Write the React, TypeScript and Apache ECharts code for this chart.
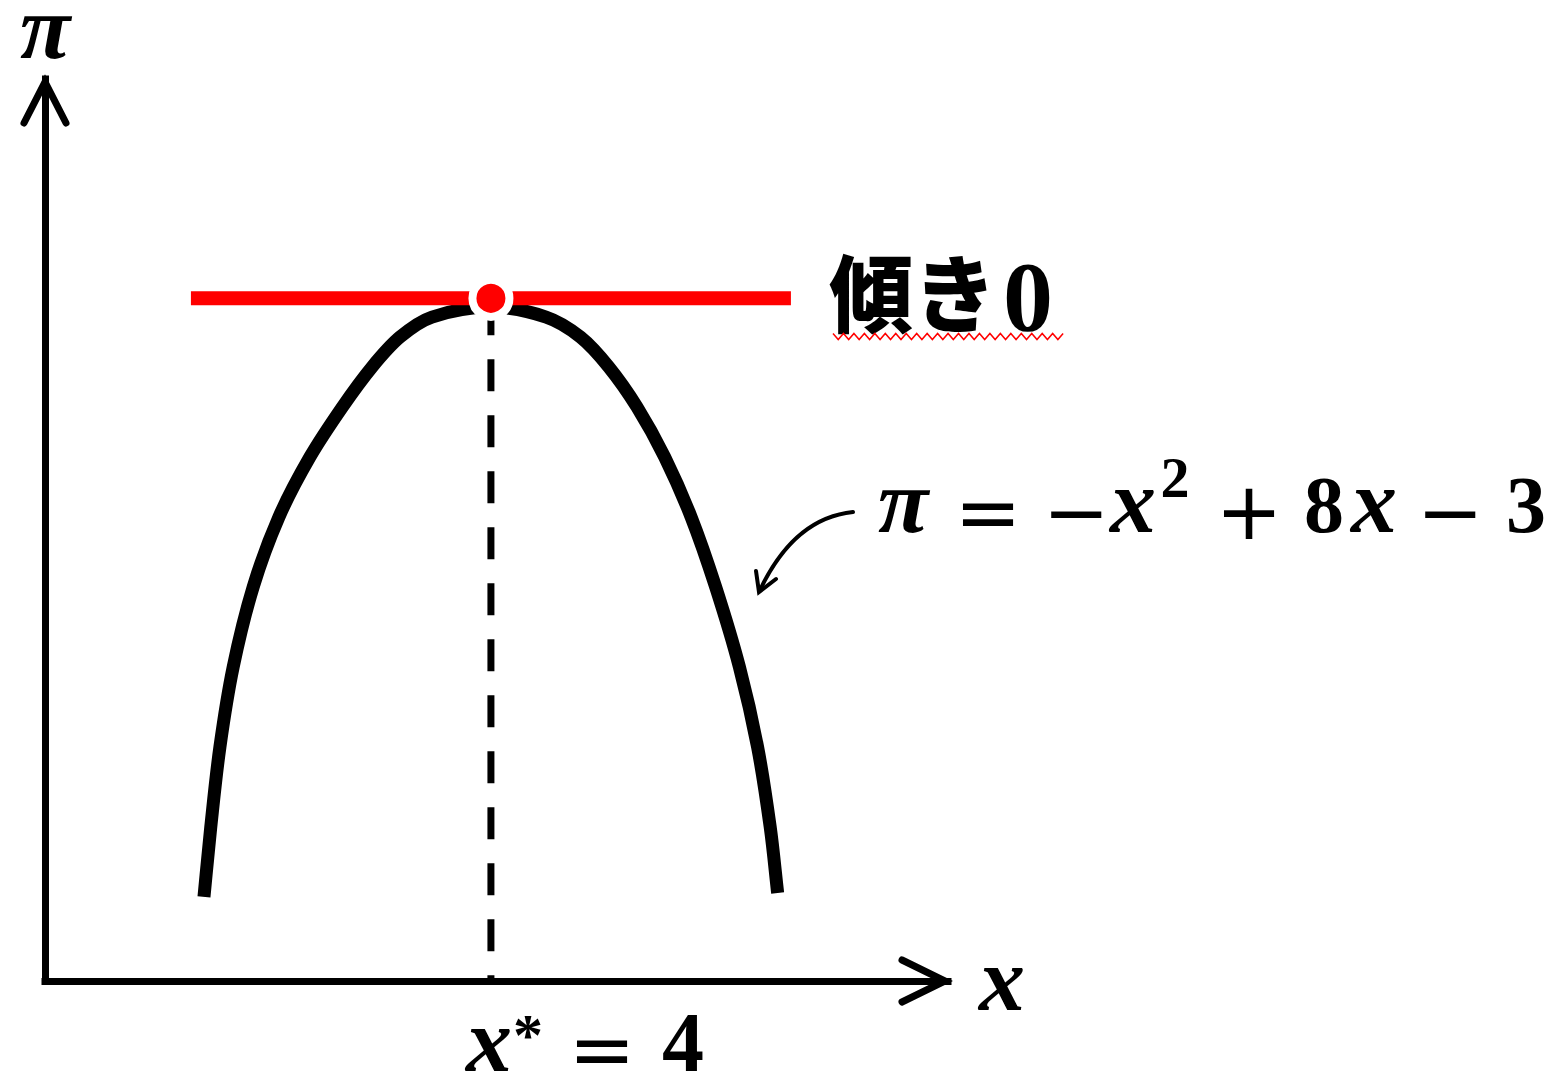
import React, { useEffect, useRef } from "react";
import * as echarts from "echarts";

// Axis ranges (data units)
const axisXRange = [0, 8.1];
const axisPiRange = [0, 17.4];

// Curve π(x), points (left branch, vertex, right branch)
const curveX = [1.426, 1.487, 1.569, 1.688, 1.867, 2.098, 2.376, 2.667, 2.933, 3.184, 3.471, 4.0, 4.495, 4.804, 5.058, 5.311, 5.559, 5.796, 6.016, 6.229, 6.392, 6.505, 6.572];
const curvePi = [1.621, 2.971, 4.514, 6.057, 7.6, 8.95, 10.107, 11.071, 11.843, 12.421, 12.807, 13.0, 12.807, 12.421, 11.843, 11.071, 10.107, 8.95, 7.6, 6.057, 4.514, 2.971, 1.698];

// Optimum and tangent
const optimumX = 4;
const tangentPi = 13.17;
const tangentX = [1.309, 6.691];

export default function App() {
  const ref = useRef<HTMLDivElement>(null);

  useEffect(() => {
    const chart = echarts.init(ref.current!, null, { renderer: "svg" });

    const serif = "'Liberation Serif', 'Times New Roman', serif";
    const sans = "'DejaVu Sans', sans-serif";
    const cjk = "'Noto Sans CJK JP', 'Noto Sans CJK SC', sans-serif";

    const t = (text: string, cx: number, baseline: number, size: number, family: string, opts: any = {}) => {
      const off = family === sans ? 0.3 * size : 0.3375 * size;
      return {
        type: "text",
        x: cx,
        y: baseline - off,
        style: {
          text,
          fontSize: size,
          fontFamily: family,
          fontWeight: opts.weight ?? "bold",
          fontStyle: opts.italic ? "italic" : "normal",
          fill: "#000",
          align: opts.align ?? "center",
          verticalAlign: "middle",
        },
        z: 10,
      };
    };

    const wave: number[][] = [];
    for (let i = 0; i <= 44; i++) {
      wave.push([833 + i * 5.23, i % 2 === 0 ? 333.5 : 339.5]);
    }

    // smooth curve through the read points (spline drawn in pixel space)
    const renderCurve = (params: any, api: any) => {
      const P = curveX.map((x, i) => api.coord([x, curvePi[i]]));
      const n = P.length;
      const d: number[] = [];
      for (let i = 0; i < n - 1; i++) d.push(Math.hypot(P[i + 1][0] - P[i][0], P[i + 1][1] - P[i][1]));
      const T: number[][] = P.map((p, i) => {
        if (i === 0) return [(P[1][0] - p[0]) / d[0], (P[1][1] - p[1]) / d[0]];
        if (i === n - 1) return [(p[0] - P[n - 2][0]) / d[n - 2], (p[1] - P[n - 2][1]) / d[n - 2]];
        const s = d[i - 1] + d[i];
        return [(P[i + 1][0] - P[i - 1][0]) / s, (P[i + 1][1] - P[i - 1][1]) / s];
      });
      let path = `M${P[0][0]},${P[0][1]}`;
      for (let i = 0; i < n - 1; i++) {
        const c1 = [P[i][0] + (T[i][0] * d[i]) / 3, P[i][1] + (T[i][1] * d[i]) / 3];
        const c2 = [P[i + 1][0] - (T[i + 1][0] * d[i]) / 3, P[i + 1][1] - (T[i + 1][1] * d[i]) / 3];
        path += ` C${c1[0]},${c1[1]} ${c2[0]},${c2[1]} ${P[i + 1][0]},${P[i + 1][1]}`;
      }
      return {
        type: "path",
        shape: { pathData: path },
        style: { stroke: "#000", lineWidth: 13, fill: null, lineCap: "butt", lineJoin: "round" },
      };
    };

    const option: any = {
      animation: false,
      backgroundColor: "#fff",
      grid: { left: 45, right: 614, top: 79, bottom: 100 },
      xAxis: {
        type: "value",
        min: axisXRange[0],
        max: axisXRange[1],
        axisLine: { show: true, lineStyle: { color: "#000", width: 7, cap: "square" } },
        axisTick: { show: false },
        axisLabel: { show: false },
        splitLine: { show: false },
      },
      yAxis: {
        type: "value",
        min: axisPiRange[0],
        max: axisPiRange[1],
        axisLine: { show: true, lineStyle: { color: "#000", width: 7, cap: "square" } },
        axisTick: { show: false },
        axisLabel: { show: false },
        splitLine: { show: false },
      },
      series: [
        {
          type: "custom",
          clip: false,
          data: [[curveX[0], curvePi[0]]],
          renderItem: renderCurve,
          z: 2,
        },
        {
          type: "line",
          data: [
            [optimumX, tangentPi],
            [optimumX, axisPiRange[0]],
          ],
          showSymbol: false,
          lineStyle: { color: "#000", width: 7, type: [32, 24], dashOffset: 51 },
          z: 2,
        },
        {
          type: "line",
          data: [
            [tangentX[0], tangentPi],
            [tangentX[1], tangentPi],
          ],
          showSymbol: false,
          lineStyle: { color: "#FF0000", width: 14 },
          z: 3,
        },
        {
          type: "scatter",
          data: [[optimumX, tangentPi]],
          symbol: "circle",
          symbolSize: 37,
          itemStyle: { color: "#FF0000", borderColor: "#FFFFFF", borderWidth: 8, opacity: 1 },
          z: 4,
        },
        {
          type: "custom",
          clip: false,
          data: [[axisXRange[1], axisPiRange[1]]],
          renderItem: (params: any, api: any) => {
            const xe = api.coord([axisXRange[1], axisPiRange[0]]);
            const ye = api.coord([axisXRange[0], axisPiRange[1]]);
            const st = { stroke: "#000", lineWidth: 7, fill: null, lineCap: "round", lineJoin: "miter" };
            return {
              type: "group",
              children: [
                {
                  type: "polyline",
                  shape: { points: [[xe[0] - 46, xe[1] - 21], [xe[0] - 3, xe[1]], [xe[0] - 46, xe[1] + 21]] },
                  style: st,
                },
                {
                  type: "polyline",
                  shape: { points: [[ye[0] - 21, ye[1] + 44], [ye[0], ye[1] + 3], [ye[0] + 21, ye[1] + 44]] },
                  style: st,
                },
              ],
            };
          },
          z: 5,
        },
      ],
      graphic: [
        // axis names
        t("π", 45, 58, 92, serif, { italic: true }),
        t("x", 1002, 1010, 92, serif, { italic: true }),
        // x* = 4
        t("x", 489, 1071, 92, serif, { italic: true }),
        t("*", 528, 1055, 60, serif),
        t("=", 602, 1073, 80, sans, { weight: "normal" }),
        t("4", 683, 1071, 84, serif),
        // 傾き0
        {
          type: "text",
          x: 829,
          y: 289,
          style: { text: "傾き", fontSize: 84, fontFamily: cjk, fontWeight: 900, fill: "#000", align: "left", verticalAlign: "middle" },
          z: 10,
        },
        t("0", 1028, 330, 100, serif),
        {
          type: "polyline",
          shape: { points: wave },
          style: { stroke: "#FF0000", lineWidth: 1.5, fill: null },
          z: 10,
        },
        // formula
        t("π", 903, 532, 92, serif, { italic: true }),
        t("=", 988, 536, 80, sans, { weight: "normal" }),
        t("−", 1076, 536, 80, sans, { weight: "normal" }),
        t("x", 1133, 532, 92, serif, { italic: true }),
        t("2", 1175, 497, 58, serif),
        t("+", 1249, 535, 80, sans, { weight: "normal" }),
        t("8", 1324, 532, 80, serif),
        t("x", 1374, 532, 92, serif, { italic: true }),
        t("−", 1450, 536, 80, sans, { weight: "normal" }),
        t("3", 1526, 532, 80, serif),
        // annotation arrow
        {
          type: "bezierCurve",
          shape: { x1: 853, y1: 512, cpx1: 795, cpy1: 518, x2: 761, y2: 588 },
          style: { stroke: "#000", lineWidth: 4, fill: null, lineCap: "round" },
          z: 10,
        },
        {
          type: "polyline",
          shape: { points: [[756, 571], [759, 592], [776, 579]] },
          style: { stroke: "#000", lineWidth: 4, fill: null, lineCap: "round", lineJoin: "miter" },
          z: 10,
        },
      ],
    };

    chart.setOption(option);
    return () => chart.dispose();
  }, []);

  return (
    <div
      ref={ref}
      style={{ position: "absolute", left: 0, top: 0, width: 1562, height: 1081, background: "#fff" }}
    />
  );
}
